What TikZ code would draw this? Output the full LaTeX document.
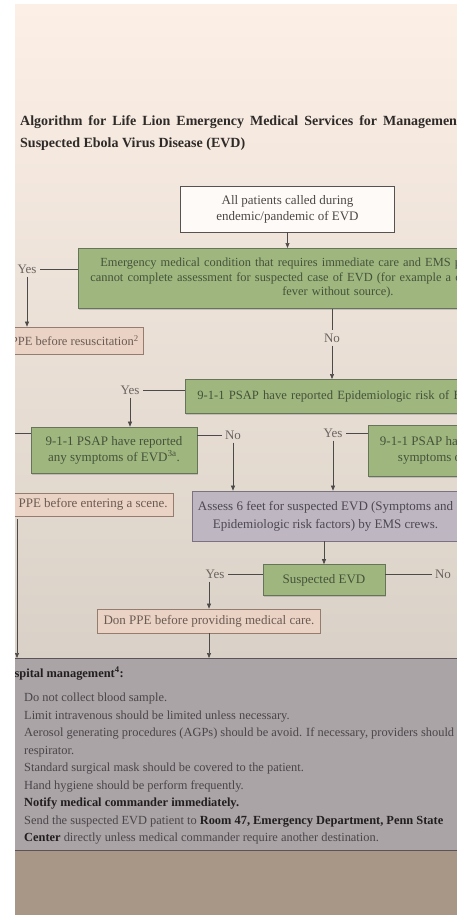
\documentclass[tikz,border=0pt]{standalone}
\usepackage{fontspec}
\setmainfont{Liberation Serif}
\usetikzlibrary{arrows.meta,shadows}

\definecolor{pagetop}{HTML}{FCEFE6}
\definecolor{pagemid}{HTML}{EDE8E2}
\definecolor{pagelow}{HTML}{D9D1C7}
\definecolor{tanbase}{HTML}{A89787}
\definecolor{mgmtfill}{HTML}{AAA4A7}
\definecolor{mgmtline}{HTML}{5A5458}
\definecolor{gfill}{HTML}{9FB77F}
\definecolor{gline}{HTML}{66745A}
\definecolor{gtext}{HTML}{45523A}
\definecolor{pfill}{HTML}{EAD3C5}
\definecolor{pline}{HTML}{957C6E}
\definecolor{ptext}{HTML}{6A5A52}
\definecolor{afill}{HTML}{BEB6C1}
\definecolor{aline}{HTML}{7A7280}
\definecolor{atext}{HTML}{4C4850}
\definecolor{wline}{HTML}{55524F}
\definecolor{wtext}{HTML}{4A4846}
\definecolor{linkgray}{HTML}{4C4A48}
\definecolor{lbltext}{HTML}{6A6460}
\definecolor{ttltext}{HTML}{2E2A28}
\definecolor{itemtext}{HTML}{4A4548}
\definecolor{itembold}{HTML}{221E20}

\tikzset{
  box/.style={rectangle, line width=0.7pt, inner xsep=6pt, inner ysep=2pt,
    font=\fontsize{13}{16}\selectfont, align=center},
  gbox/.style={box, fill=gfill, draw=gline, text=gtext,
    drop shadow={shadow xshift=1pt, shadow yshift=-1.5pt, opacity=.35}},
  pbox/.style={box, fill=pfill, draw=pline, text=ptext},
  abox/.style={box, fill=afill, draw=aline, text=atext},
  wbox/.style={box, fill=white!70!pagetop, draw=wline, text=wtext},
  lbl/.style={font=\fontsize{13}{15}\selectfont, text=lbltext, inner sep=3pt},
  ttl/.style={anchor=base west, inner sep=0pt, text=ttltext,
    font=\bfseries\fontsize{14}{17}\selectfont},
  item/.style={anchor=base west, inner sep=0pt, text=itemtext,
    font=\fontsize{12.4}{15}\selectfont},
  conn/.style={draw=linkgray, line width=0.6pt},
  arr/.style={conn, -{Triangle[length=5pt,width=4pt]}},
}

\begin{document}
\begin{tikzpicture}[x=1pt,y=-1pt]
  \useasboundingbox (0,0) rectangle (457,915);
  \fill[white] (0,0) rectangle (457,915);

  \begin{scope}
  \clip (15,5) rectangle (457,915);
  % the sheet
  \shade[top color=pagetop, middle color=pagemid, bottom color=pagelow]
    (15,5) rectangle (457,660);
  \fill[tanbase] (15,850) rectangle (457,915);

  \node[ttl] (ttl1) at (20,125) {{\spaceskip=6pt\relax Algorithm for Life Lion Emergency Medical Services for Management of}};
  \node[ttl] (ttl2) at (20,147) {Suspected Ebola Virus Disease (EVD)};

  % flow boxes
  \node[wbox, minimum width=214pt, minimum height=46pt] (start) at (287.5,209)
    {All patients called during\\endemic/pandemic of EVD};
  \node[gbox, anchor=north west, text width=510pt, inner xsep=12pt, align=left,
    minimum height=60pt, font=\fontsize{12.4}{14.5}\selectfont] (cond) at (78,248)
    {\hspace*{10pt}Emergency medical condition that requires immediate care and EMS providers\\
     cannot complete assessment for suspected case of EVD (for example a child\\
     \hspace*{192pt}fever without source).};
  \node[lbl] (yes1) at (27,269) {Yes};
  \node[pbox, anchor=east, minimum height=27pt, inner xsep=5pt,
    font=\fontsize{12.5}{15}\selectfont] (resus) at (144,340.5)
    {Don PPE before resuscitation\textsuperscript{2}};
  \node[lbl] (no1) at (332,338) {No};

  \node[gbox, anchor=north west, text width=330pt, inner xsep=12pt, align=left,
    minimum height=34pt, font=\fontsize{12.6}{15}\selectfont] (risk) at (185,379)
    {9-1-1 PSAP have reported Epidemiologic risk of EVD.};
  \node[lbl] (yes2) at (130,390) {Yes};
  \node[gbox, minimum width=166pt, minimum height=46pt] (symA) at (114,450)
    {9-1-1 PSAP have reported\\any symptoms of EVD\textsuperscript{3a}.};
  \node[lbl] (no2) at (233,435) {No};
  \node[lbl] (yes3) at (333,433) {Yes};
  \node[gbox, anchor=north west, minimum width=160pt, minimum height=51pt] (symB) at (368,425)
    {9-1-1 PSAP have reported\\symptoms of EVD.};

  \node[pbox, anchor=east, minimum height=23pt] (enter) at (174,504.5)
    {Don PPE before entering a scene.};
  \node[abox, minimum width=265pt, minimum height=50pt,
    font=\fontsize{13}{18}\selectfont] (assess) at (325.5,516)
    {Assess 6 feet for suspected EVD (Symptoms and\\Epidemiologic risk factors) by EMS crews.};
  \node[gbox, minimum width=122pt, minimum height=31pt] (susp) at (324,580) {Suspected EVD};
  \node[lbl] (yes4) at (215,574) {Yes};
  \node[lbl] (no4) at (443,574) {No};
  \node[pbox, minimum width=222pt, minimum height=24pt] (don) at (209,621)
    {Don PPE before providing medical care.};

  % management panel
  \node[rectangle, anchor=north west, fill=mgmtfill, draw=mgmtline, line width=0.8pt,
    minimum width=480pt, minimum height=192pt] (mgmt) at (-5,658) {};
  \node[item, anchor=base east, text=itembold, font=\bfseries\fontsize{12.4}{15}\selectfont]
    (hosp) at (124,677) {Pre-hospital management\textsuperscript{4}:};
  \foreach \txt [count=\i] in {
      {Do not collect blood sample.},
      {Limit intravenous should be limited unless necessary.},
      {Aerosol generating procedures (AGPs) should be avoid. If necessary, providers should},
      {respirator.},
      {Standard surgical mask should be covered to the patient.},
      {Hand hygiene should be perform frequently.},
      {\textcolor{itembold}{\textbf{Notify medical commander immediately.}}},
      {Send the suspected EVD patient to \textcolor{itembold}{\textbf{Room 47, Emergency Department, Penn State}}},
      {\textcolor{itembold}{\textbf{Center}} directly unless medical commander require another destination.}}
    \node[item] (item\i) at (24,684+17.5*\i) {\txt};

  % connectors
  \draw[arr] (start.south) -- (start.south |- cond.north);
  \draw[conn] (cond.west |- yes1) -- (yes1.east);
  \draw[arr] (yes1.south) -- (yes1.south |- resus.north);
  \draw[conn] (cond.south -| no1) -- (no1.north);
  \draw[arr] (no1.south) -- (no1.south |- risk.north);
  \draw[conn] (risk.west |- yes2) -- (yes2.east);
  \draw[arr] (yes2.south) -- (yes2.south |- symA.north);
  \coordinate (symAout) at (5,433);
  \draw[conn] (symA.west |- symAout) -- (symAout);
  \draw[conn] (symA.east |- no2) -- (no2.west);
  \draw[arr] (no2.south) -- (no2.south |- assess.north);
  \draw[conn] (symB.west |- yes3) -- (yes3.east);
  \draw[arr] (yes3.south) -- (yes3.south |- assess.north);
  \draw[arr] (assess.south -| susp.north) -- (susp.north);
  \draw[conn] (susp.west |- yes4) -- (yes4.east);
  \draw[conn] (susp.east |- no4) -- (no4.west);
  \draw[arr] (yes4.south -| don.north) -- (don.north);
  \draw[arr] (don.south) -- (don.south |- mgmt.north);
  \coordinate (lft) at (17,519);
  \draw[arr] (lft) -- (lft |- mgmt.north);
  \end{scope}
\end{tikzpicture}
\end{document}
